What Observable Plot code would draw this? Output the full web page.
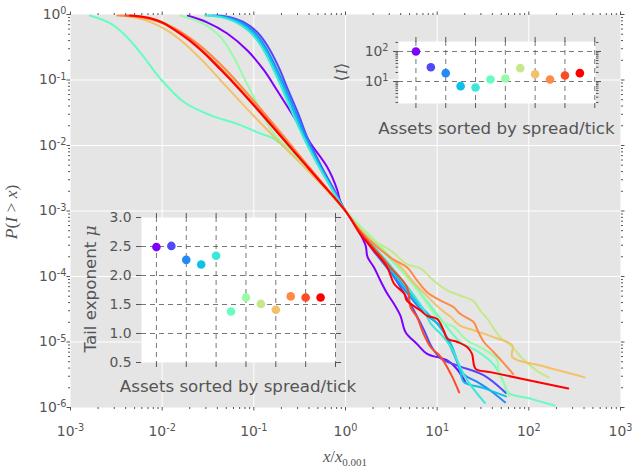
<!DOCTYPE html>
<html><head><meta charset="utf-8">
<script src="https://cdn.jsdelivr.net/npm/d3@7"></script>
<script src="https://cdn.jsdelivr.net/npm/@observablehq/plot@0.6"></script>
<style>
body{margin:0;background:#fff;}
#wrap{position:relative;width:633px;height:469px;overflow:hidden;background:#fff;}
#wrap svg{position:absolute;}
</style></head><body><div id="wrap"></div>
<script>
// ---- data (log10 units for the CCDF curves) ----
const logX = [
  [-1.72,-1.51,-1.29,-1.07,-0.89,-0.745,-0.56,-0.38,-0.2,-0.09,-0.06,0,0.055,0.16,0.22,0.24,0.31,0.38,0.455,0.53,0.6,0.655,0.78,0.89,1.11,1.22,1.31],
  [-1.40,-1.26,-1.12,-0.97,-0.85,-0.73,-0.63,-0.52,-0.41,-0.27,-0.13,0,0.15,0.3,0.5,0.7,0.85,0.95,1.04,1.22,1.51,1.75],
  [-1.45,-1.3,-1.15,-1.0,-0.88,-0.76,-0.65,-0.54,-0.42,-0.28,-0.14,0,0.15,0.3,0.5,0.7,0.85,1.04,1.18,1.29,1.45,1.58,1.74],
  [-1.49,-1.33,-1.18,-1.03,-0.9,-0.78,-0.67,-0.56,-0.44,-0.29,-0.15,0,0.15,0.3,0.5,0.7,0.85,1.0,1.15,1.25,1.29,1.5,1.75],
  [-1.53,-1.36,-1.21,-1.05,-0.92,-0.8,-0.69,-0.58,-0.45,-0.30,-0.15,0,0.15,0.3,0.5,0.7,0.85,0.93,1.04,1.15,1.25,1.33,1.52],
  [-2.79,-2.56,-2.38,-2.20,-2.02,-1.76,-1.47,-1.18,-0.96,-0.78,-0.5,-0.25,0,0.15,0.3,0.5,0.7,0.9,1.04,1.25,1.45,1.62,1.72,1.78,2.0,2.28],
  [-1.80,-1.55,-1.36,-1.22,-1.11,-1.0,-0.89,-0.78,-0.55,-0.28,0,0.15,0.3,0.5,0.78,1.04,1.18,1.33,1.47,1.65,1.67,1.73,1.78],
  [-2.3,-2.1,-1.95,-1.8,-1.6,-1.3,-1.0,-0.7,-0.35,0,0.09,0.31,0.49,0.67,0.82,0.96,1.11,1.25,1.40,1.47,1.55,1.62,1.69,1.80,1.95,2.09,2.22],
  [-2.45,-2.28,-2.12,-1.95,-1.75,-1.55,-1.3,-1.0,-0.67,-0.33,0,0.16,0.38,0.60,0.75,0.89,1.04,1.15,1.25,1.40,1.62,1.82,1.82,2.13,2.61],
  [-2.49,-2.3,-2.1,-1.95,-1.8,-1.6,-1.3,-1.0,-0.65,-0.32,0,0.16,0.49,0.67,0.78,0.89,1.04,1.18,1.25,1.40,1.44,1.51,1.62,1.73,1.83],
  [-2.4,-2.2,-2.05,-1.9,-1.72,-1.55,-1.4,-1.25,-0.93,-0.62,-0.3,0,0.15,0.3,0.49,0.67,0.71,0.78,0.85,0.93,1.04,1.15,1.24],
  [-2.35,-2.15,-2.0,-1.85,-1.7,-1.55,-1.4,-1.24,-0.93,-0.62,-0.31,0,0.16,0.31,0.455,0.53,0.64,0.67,0.82,0.89,1.0,1.07,1.11,1.22,1.33,1.38,1.42,1.58,2.43]
];
const logP = [
  [-0.02,-0.12,-0.29,-0.55,-0.85,-1.16,-1.57,-1.97,-2.33,-2.68,-2.84,-3.0,-3.09,-3.35,-3.53,-3.70,-3.86,-4.06,-4.26,-4.42,-4.60,-4.85,-5.03,-5.18,-5.28,-5.42,-5.62],
  [-0.015,-0.04,-0.11,-0.26,-0.48,-0.8,-1.14,-1.5,-1.9,-2.3,-2.66,-3.0,-3.3,-3.6,-3.95,-4.4,-4.8,-5.1,-5.25,-5.36,-5.51,-5.78],
  [-0.015,-0.04,-0.11,-0.26,-0.48,-0.8,-1.14,-1.5,-1.9,-2.3,-2.66,-3.0,-3.28,-3.58,-3.95,-4.3,-4.55,-4.77,-5.18,-5.49,-5.62,-5.74,-5.92],
  [-0.015,-0.04,-0.11,-0.26,-0.48,-0.8,-1.14,-1.5,-1.9,-2.3,-2.66,-3.0,-3.27,-3.55,-3.9,-4.25,-4.5,-4.72,-5.03,-5.44,-5.61,-5.70,-5.83],
  [-0.015,-0.04,-0.11,-0.26,-0.48,-0.8,-1.14,-1.5,-1.9,-2.3,-2.66,-3.0,-3.25,-3.52,-3.85,-4.2,-4.5,-4.72,-4.88,-5.08,-5.38,-5.59,-5.93],
  [-0.015,-0.14,-0.35,-0.65,-0.98,-1.34,-1.54,-1.67,-1.80,-1.90,-2.25,-2.6,-3.0,-3.22,-3.45,-3.75,-4.05,-4.4,-4.65,-5.0,-5.15,-5.35,-5.6,-5.78,-5.86,-5.97],
  [-0.015,-0.14,-0.35,-0.65,-0.96,-1.26,-1.57,-1.82,-2.15,-2.55,-3.0,-3.22,-3.42,-3.72,-4.2,-4.68,-4.77,-4.98,-5.08,-5.26,-5.44,-5.64,-5.82],
  [-0.015,-0.06,-0.14,-0.27,-0.5,-0.9,-1.36,-1.85,-2.42,-3.0,-3.15,-3.45,-3.60,-3.81,-3.88,-4.06,-4.21,-4.29,-4.38,-4.52,-4.65,-4.80,-4.93,-5.05,-5.28,-5.44,-5.54],
  [-0.015,-0.05,-0.12,-0.24,-0.45,-0.72,-1.1,-1.55,-2.02,-2.5,-3.0,-3.3,-3.58,-3.85,-4.1,-4.3,-4.5,-4.62,-4.75,-4.82,-4.93,-5.05,-5.23,-5.36,-5.54],
  [-0.015,-0.03,-0.08,-0.15,-0.26,-0.46,-0.85,-1.32,-1.9,-2.46,-3.0,-3.3,-3.71,-3.86,-4.06,-4.24,-4.37,-4.47,-4.57,-4.70,-4.82,-5.00,-5.16,-5.33,-5.49],
  [-0.015,-0.04,-0.1,-0.2,-0.36,-0.57,-0.77,-0.99,-1.48,-1.99,-2.5,-3.0,-3.3,-3.55,-3.86,-4.16,-4.47,-4.62,-4.87,-5.08,-5.23,-5.49,-5.77],
  [-0.015,-0.05,-0.12,-0.25,-0.4,-0.58,-0.79,-1.02,-1.5,-2.0,-2.5,-3.0,-3.35,-3.60,-3.86,-4.11,-4.26,-4.37,-4.52,-4.60,-4.65,-4.82,-4.95,-5.0,-5.08,-5.18,-5.41,-5.46,-5.71]
];
const assetIndex = [0,1,2,3,4,5,6,7,8,9,10,11];
const meanImpact = [100,30,19,7.0,6.3,11.7,12.6,27.8,17.5,11.7,15.8,19];
const tailExponent = [2.49,2.51,2.27,2.19,2.34,1.38,1.62,1.51,1.41,1.64,1.62,1.62];
const mainXTicks = [1e-3,1e-2,1e-1,1,10,100,1000];
const mainYTicks = [1e-6,1e-5,1e-4,1e-3,1e-2,1e-1,1];
const insetXTicks = [0,2,4,6,8,10,12];
const insetLogTicks = [10,100];
const insetMuTicks = [0.5,1.0,1.5,2.0,2.5,3.0];
const assetsLabel = "Assets sorted by spread/tick";

// ---- helpers ----
const rainbow = t => d3.rgb(255*Math.min(1,Math.abs(2*t-0.5)), 255*Math.sin(Math.PI*t), 255*Math.cos(Math.PI*t/2)).formatHex();
const colors = assetIndex.map(i => rainbow(i/11));
const pow10 = v => "10^" + Math.round(Math.log10(v));
const minorLog = (lo, hi) => { const out=[]; for (let k=lo;k<hi;k++) for (let m=2;m<=9;m++) out.push(m*10**k); return out; };
const none = () => "";
const FONT = "'DejaVu Sans', sans-serif";
const SERIF = "'Liberation Serif', 'DejaVu Serif', serif";
const baseStyle = {background:"transparent", fontFamily:FONT, fontSize:"13.9px", color:"#555", overflow:"visible"};
const wrap = document.getElementById("wrap");
// turn "10^-3" labels into a base with a raised exponent
function superscripts(svg) {
  d3.select(svg).selectAll("text").each(function() {
    const m = /^10\^(-?\d+)$/.exec(this.textContent);
    if (!m) return;
    const t = d3.select(this); t.text("");
    t.append("tspan").text("10");
    t.append("tspan").attr("dy","-0.48em").attr("font-size","0.7em").text(m[1]);
  });
}

// ---- main chart ----
const minorX = minorLog(-3,3), minorY = minorLog(-6,0);
const lineMarks = assetIndex.map(i => Plot.line(
  logX[i].map((v,j) => ({x: 10**v, y: 10**logP[i][j]})),
  {x:"x", y:"y", stroke: colors[i], strokeWidth: 2, curve: "catmull-rom"}));
const main = Plot.plot({
  width:633, height:469, marginLeft:70, marginRight:13, marginTop:14, marginBottom:62,
  style: baseStyle,
  x:{type:"log", domain:[1e-3,1e3]},
  y:{type:"log", domain:[1e-6,1]},
  marks:[
    Plot.frame({fill:"#e5e5e5", stroke:null}),
    Plot.gridX(mainXTicks.slice(1,-1), {stroke:"white", strokeOpacity:1, strokeWidth:1}),
    Plot.gridY(mainYTicks.slice(1,-1), {stroke:"white", strokeOpacity:1, strokeWidth:1}),
    ...lineMarks,
    Plot.axisX(mainXTicks, {anchor:"bottom", tickSize:3.5, tickPadding:15, tickFormat:pow10, label:null}),
    Plot.axisX(minorX, {anchor:"bottom", tickSize:2, tickFormat:none, label:null}),
    Plot.axisX(mainXTicks, {anchor:"top", tickSize:3.5, tickFormat:none, label:null}),
    Plot.axisX(minorX, {anchor:"top", tickSize:2, tickFormat:none, label:null}),
    Plot.axisY(mainYTicks, {anchor:"left", tickSize:3.5, tickPadding:0.5, tickFormat:pow10, label:null}),
    Plot.axisY(minorY, {anchor:"left", tickSize:2, tickFormat:none, label:null}),
    Plot.axisY(mainYTicks, {anchor:"right", tickSize:3.5, tickFormat:none, label:null}),
    Plot.axisY(minorY, {anchor:"right", tickSize:2, tickFormat:none, label:null})
  ]
});
main.style.left = "0px"; main.style.top = "0px";
wrap.appendChild(main);
superscripts(main);
{
  const s = d3.select(main);
  const xl = s.append("text").attr("x",345).attr("y",462).attr("text-anchor","middle")
    .attr("font-family",SERIF).attr("font-size",16.7).attr("fill","#555");
  xl.append("tspan").attr("font-style","italic").text("x");
  xl.append("tspan").text("/");
  xl.append("tspan").attr("font-style","italic").text("x");
  xl.append("tspan").attr("dy",4).attr("font-size",11).text("0.001");
  const yl = s.append("text").attr("transform","translate(17,212) rotate(-90)").attr("text-anchor","middle")
    .attr("font-family",SERIF).attr("font-size",17.5).attr("fill","#555");
  yl.append("tspan").attr("font-style","italic").text("P");
  yl.append("tspan").text("(");
  yl.append("tspan").attr("font-style","italic").text("I");
  yl.append("tspan").text(" > ");
  yl.append("tspan").attr("font-style","italic").text("x");
  yl.append("tspan").text(")");
}

// ---- inset 1: mean impact ----
const gridStyle = {stroke:"#555", strokeOpacity:1, strokeWidth:0.8, strokeDasharray:"5,4"};
const minorI = minorLog(0,3).filter(v => v>=1.85 && v<=215);
const inset1 = Plot.plot({
  width:290, height:120, marginLeft:68, marginRight:25, marginTop:16, marginBottom:42,
  style: baseStyle,
  x:{domain:[-1.17,12.05]},
  y:{type:"log", domain:[1.85,215]},
  color:{type:"identity"},
  marks:[
    Plot.frame({fill:"white", stroke:null}),
    Plot.gridX(insetXTicks, gridStyle),
    Plot.gridY(insetLogTicks, gridStyle),
    Plot.dot(assetIndex, {x: d => d, y: d => meanImpact[d], fill: d => colors[d], r: 4.3, stroke: null}),
    Plot.axisY(insetLogTicks, {anchor:"left", tickSize:5, tickPadding:5, tickFormat:pow10, label:null}),
    Plot.axisY(minorI, {anchor:"left", tickSize:2.5, tickFormat:none, label:null}),
    Plot.axisY(insetLogTicks, {anchor:"right", tickSize:5, tickFormat:none, label:null}),
    Plot.axisY(minorI, {anchor:"right", tickSize:2.5, tickFormat:none, label:null}),
    Plot.axisX(insetXTicks, {anchor:"bottom", tickSize:5, tickFormat:none, label:null}),
    Plot.axisX(insetXTicks, {anchor:"top", tickSize:5, tickFormat:none, label:null})
  ]
});
inset1.style.left = "330px"; inset1.style.top = "25px";
wrap.appendChild(inset1);
superscripts(inset1);
{
  const s = d3.select(inset1);
  s.append("text").attr("x",166.5).attr("y",109).attr("text-anchor","middle")
    .attr("font-family",FONT).attr("font-size",16.7).attr("fill","#555").text(assetsLabel);
  const yl = s.append("text").attr("transform","translate(17,47) rotate(-90)").attr("text-anchor","middle")
    .attr("font-family","'DejaVu Serif', serif").attr("font-size",17).attr("fill","#555");
  yl.append("tspan").text("⟨");
  yl.append("tspan").attr("font-style","italic").attr("font-family",SERIF).text("I");
  yl.append("tspan").text("⟩");
}

// ---- inset 2: tail exponent ----
const inset2 = Plot.plot({
  width:270, height:195, marginLeft:61, marginRight:15, marginTop:12, marginBottom:38,
  style: baseStyle,
  x:{domain:[-1,12]},
  y:{domain:[0.5,3.0]},
  color:{type:"identity"},
  marks:[
    Plot.frame({fill:"white", stroke:null}),
    Plot.gridX(insetXTicks, gridStyle),
    Plot.gridY(insetMuTicks.slice(1,-1), gridStyle),
    Plot.dot(assetIndex, {x: d => d, y: d => tailExponent[d], fill: d => colors[d], r: 4.3, stroke: null}),
    Plot.axisY(insetMuTicks, {anchor:"left", tickSize:5, tickPadding:5, tickFormat:d3.format(".1f"), label:null}),
    Plot.axisY(insetMuTicks, {anchor:"right", tickSize:5, tickFormat:none, label:null}),
    Plot.axisX(insetXTicks, {anchor:"bottom", tickSize:5, tickFormat:none, label:null}),
    Plot.axisX(insetXTicks, {anchor:"top", tickSize:5, tickFormat:none, label:null})
  ]
});
inset2.style.left = "80px"; inset2.style.top = "205px";
wrap.appendChild(inset2);
{
  const s = d3.select(inset2);
  s.append("text").attr("x",158).attr("y",187).attr("text-anchor","middle")
    .attr("font-family",FONT).attr("font-size",16.7).attr("fill","#555").text(assetsLabel);
  const yl = s.append("text").attr("transform","translate(16,84) rotate(-90)").attr("text-anchor","middle")
    .attr("font-family",FONT).attr("font-size",16.7).attr("fill","#555");
  yl.append("tspan").text("Tail exponent ");
  yl.append("tspan").attr("font-style","italic").attr("font-family","'DejaVu Serif', serif").text("μ");
}
</script></body></html>
